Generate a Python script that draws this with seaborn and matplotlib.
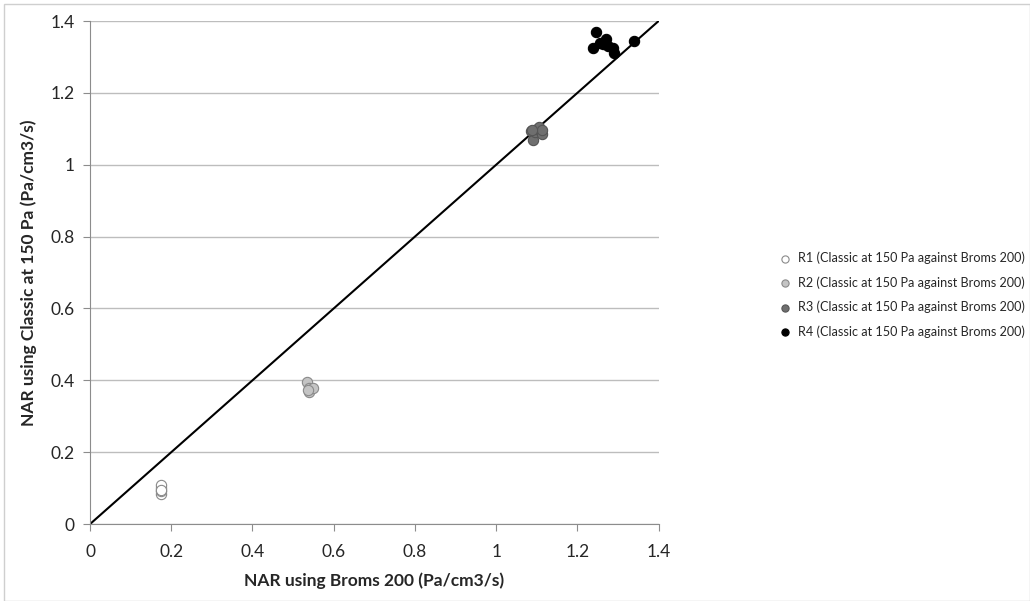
import pandas as pd
import matplotlib.pyplot as plt
import seaborn as sns
from matplotlib.ticker import FuncFormatter
from matplotlib.patches import Rectangle

# NAR values: x = Broms 200, y = Classic at 150 Pa
r1_x = [0.175, 0.175, 0.175, 0.175, 0.176]
r1_y = [0.085, 0.092, 0.100, 0.108, 0.095]
r2_x = [0.535, 0.538, 0.540, 0.548, 0.536]
r2_y = [0.395, 0.380, 0.368, 0.378, 0.372]
r3_x = [1.085, 1.090, 1.095, 1.100, 1.105, 1.112, 1.113, 1.088]
r3_y = [1.095, 1.070, 1.090, 1.100, 1.105, 1.085, 1.098, 1.098]
r4_x = [1.238, 1.245, 1.255, 1.262, 1.270, 1.275, 1.288, 1.290, 1.340]
r4_y = [1.325, 1.370, 1.340, 1.335, 1.350, 1.330, 1.325, 1.310, 1.345]

series = ["R1", "R2", "R3", "R4"]
label_suffix = " (Classic at 150 Pa against Broms 200)"
fills = ["#ffffff", "#c4c4c4", "#6f6f6f", "#000000"]
edges = ["#8a8a8a", "#8a8a8a", "#555555", "#000000"]

rows = []
for name, xs, ys in zip(series, [r1_x, r2_x, r3_x, r4_x], [r1_y, r2_y, r3_y, r4_y]):
    for x, y in zip(xs, ys):
        rows.append({"broms": x, "classic": y, "series": name + label_suffix})
df = pd.DataFrame(rows)

sns.set_style("white")
plt.rcParams["font.family"] = ["Lato", "DejaVu Sans"]

fig = plt.figure(figsize=(10.3, 6.01), dpi=100)
ax = fig.add_axes([0.0874, 0.128, 0.552, 0.837])

# identity line
ax.plot([0, 1.4], [0, 1.4], color="black", lw=1.5, zorder=1)

labels = [s + label_suffix for s in series]
for lab, fc, ec in zip(labels, fills, edges):
    sub = df[df["series"] == lab]
    sns.scatterplot(data=sub, x="broms", y="classic", ax=ax, color=fc,
                    edgecolor=ec, linewidth=0.8, s=55, label=lab, zorder=3)

ax.set_xlim(0, 1.4)
ax.set_ylim(0, 1.4)
ticks = [0, 0.2, 0.4, 0.6, 0.8, 1, 1.2, 1.4]
ax.set_xticks(ticks)
ax.set_yticks(ticks)
fmt = FuncFormatter(lambda v, p: "%g" % round(v, 1))
ax.xaxis.set_major_formatter(fmt)
ax.yaxis.set_major_formatter(fmt)
ax.yaxis.grid(True, color="#bdbdbd", lw=1)
ax.xaxis.grid(False)
for side in ["top", "right"]:
    ax.spines[side].set_visible(False)
for side in ["left", "bottom"]:
    ax.spines[side].set_color("#8c8c8c")
ax.tick_params(axis="both", direction="out", length=5, color="#8c8c8c",
               labelsize=12.5, pad=6, bottom=True, left=True)
ax.tick_params(axis="x", pad=9)

ax.set_xlabel("NAR using Broms 200 (Pa/cm3/s)", fontsize=12.5, fontweight="bold", labelpad=9)
ax.set_ylabel("NAR using Classic at 150 Pa (Pa/cm3/s)", fontsize=12.5, fontweight="bold", labelpad=10)

# legend text is narrow in the original; shrink the font until it fits
leg_size = 10.5
for _ in range(3):
    leg = ax.legend(loc="center left", bbox_to_anchor=(1.2, 0.456), frameon=False,
                    fontsize=leg_size, handletextpad=0.05, labelspacing=0.95,
                    markerscale=0.7, borderaxespad=0, borderpad=0)
    fig.canvas.draw()
    widest = max(t.get_window_extent().width for t in leg.get_texts())
    leg_size = leg_size * 226 / widest

fig.patches.append(Rectangle((0.004, 0.0), 0.996, 0.994, transform=fig.transFigure,
                             fill=False, edgecolor="#cfcfcf", lw=1))

fig.savefig("out.png", dpi=100)
